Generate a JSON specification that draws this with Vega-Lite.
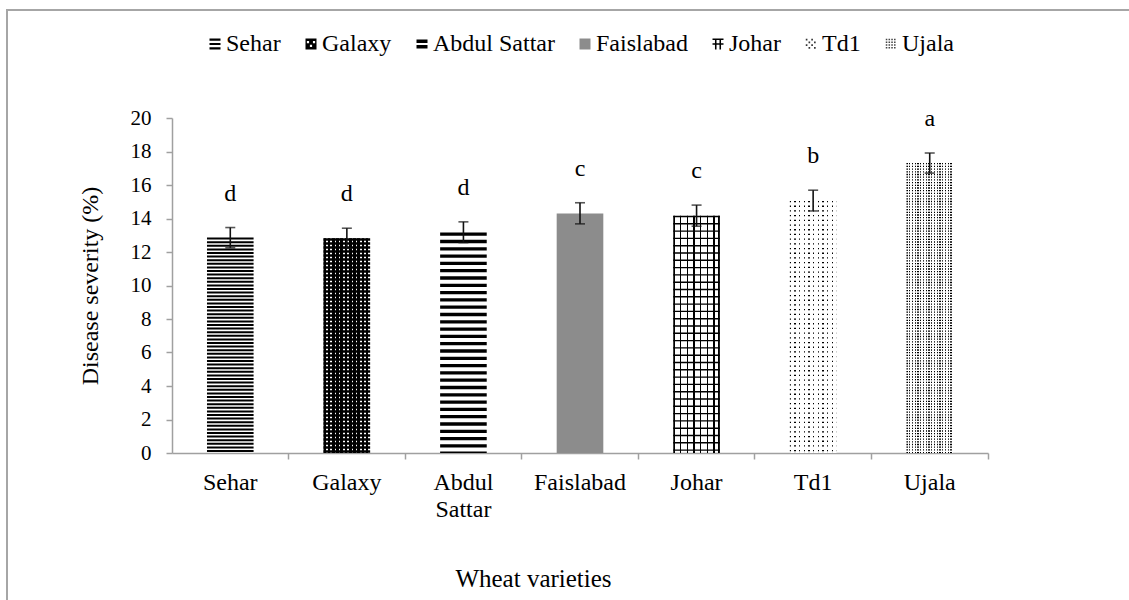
{
  "$schema": "https://vega.github.io/schema/vega-lite/v6.json",
  "width": 1132,
  "height": 600,
  "autosize": {"type": "none"},
  "padding": {"left": 7, "top": 10, "right": -10, "bottom": -10},
  "background": "white",
  "config": {
    "view": {"stroke": "#a6a6a6", "strokeWidth": 2},
    "axis": {
      "labelFont": "Liberation Serif",
      "titleFont": "Liberation Serif",
      "labelColor": "#000000",
      "titleColor": "#000000",
      "titleFontWeight": "normal",
      "domainColor": "#a0a0a0",
      "domainWidth": 1.5,
      "tickColor": "#a0a0a0",
      "tickWidth": 1.5,
      "tickSize": 6,
      "grid": false
    },
    "axisY": {
      "offset": -165,
      "tickCount": 10,
      "labelFontSize": 21,
      "labelPadding": 15,
      "titleFontSize": 24,
      "titleAngle": -90,
      "titleX": -82,
      "titleY": 275.5,
      "titleBaseline": "middle",
      "titleAlign": "center"
    },
    "legend": {
      "labelFont": "Liberation Serif",
      "labelFontSize": 24,
      "labelColor": "#000000",
      "labelOffset": -1,
      "columnPadding": 18,
      "symbolSize": 121,
      "symbolStrokeWidth": 0,
      "symbolOpacity": 1,
      "labelLimit": 300,
      "padding": 0
    }
  },
  "data": {
    "values": [
      {"variety": "Sehar", "mean": 12.86, "lo": 12.25, "hi": 13.46, "letter": "d"},
      {"variety": "Galaxy", "mean": 12.82, "lo": 12.22, "hi": 13.42, "letter": "d"},
      {"variety": "Abdul Sattar", "mean": 13.16, "lo": 12.56, "hi": 13.8, "letter": "d"},
      {"variety": "Faislabad", "mean": 14.3, "lo": 13.68, "hi": 14.94, "letter": "c"},
      {"variety": "Johar", "mean": 14.16, "lo": 13.54, "hi": 14.8, "letter": "c"},
      {"variety": "Td1", "mean": 15.05, "lo": 14.45, "hi": 15.69, "letter": "b"},
      {"variety": "Ujala", "mean": 17.31, "lo": 16.71, "hi": 17.91, "letter": "a"}
    ]
  },
  "encoding": {
    "x": {
      "field": "variety",
      "type": "nominal",
      "scale": {
        "type": "band",
        "domain": ["Sehar", "Galaxy", "Abdul Sattar", "Faislabad", "Johar", "Td1", "Ujala"],
        "range": [165, 981],
        "paddingInner": 0.6,
        "paddingOuter": 0.3
      },
      "axis": {
        "title": "Wheat varieties",
        "offset": -157,
        "bandPosition": 1.75,
        "labelFontSize": 24,
        "labelAngle": 0,
        "labelPadding": 11,
        "labelBaseline": "top",
        "labelExpr": "split(datum.label, ' ')",
        "labelLineHeight": 27,
        "titleFontSize": 25,
        "titleX": 526,
        "titleY": 125,
        "titleBaseline": "middle",
        "titleAlign": "center"
      }
    }
  },
  "layer": [
    {
      "mark": {"type": "point", "filled": true, "opacity": 0},
      "encoding": {
        "y": {"field": "mean", "type": "quantitative", "title": "Disease severity (%)", "scale": {"domain": [0, 20], "range": [443, 108], "nice": false, "zero": false}},
        "shape": {
          "field": "variety",
          "type": "nominal",
          "scale": {
            "domain": ["Sehar", "Galaxy", "Abdul Sattar", "Faislabad", "Johar", "Td1", "Ujala"],
            "range": [
              "M-1,-1H1V-0.6H-1Z M-1,-0.2H1V0.2H-1Z M-1,0.6H1V1H-1Z",
              "M-1,-1H1V1H-1Z M-0.75,-0.55V-0.15H-0.35V-0.55Z M0.35,-0.55V-0.15H0.75V-0.55Z M-0.2,0.15V0.55H0.2V0.15Z",
              "M-1,-0.8H1V-0.2H-1Z M-1,0.2H1V0.8H-1Z",
              "M-1,-1H1V1H-1Z",
              "M-1,-1H1V-0.72H-1Z M-1,-0.14H1V0.14H-1Z M-0.55,-1H-0.27V1H-0.55Z M0.27,-1H0.55V1H0.27Z",
              "M-0.95,-0.95h0.3v0.3h-0.3Z M0.05,-0.95h0.3v0.3h-0.3Z M-0.45,-0.45h0.3v0.3h-0.3Z M0.55,-0.45h0.3v0.3h-0.3Z M-0.95,0.05h0.3v0.3h-0.3Z M0.05,0.05h0.3v0.3h-0.3Z M-0.45,0.55h0.3v0.3h-0.3Z M0.55,0.55h0.3v0.3h-0.3Z",
              "M-0.95,-0.95h0.28v0.28h-0.28Z M-0.45,-0.95h0.28v0.28h-0.28Z M0.05,-0.95h0.28v0.28h-0.28Z M0.55,-0.95h0.28v0.28h-0.28Z M-0.95,-0.45h0.28v0.28h-0.28Z M-0.45,-0.45h0.28v0.28h-0.28Z M0.05,-0.45h0.28v0.28h-0.28Z M0.55,-0.45h0.28v0.28h-0.28Z M-0.95,0.05h0.28v0.28h-0.28Z M-0.45,0.05h0.28v0.28h-0.28Z M0.05,0.05h0.28v0.28h-0.28Z M0.55,0.05h0.28v0.28h-0.28Z M-0.95,0.55h0.28v0.28h-0.28Z M-0.45,0.55h0.28v0.28h-0.28Z M0.05,0.55h0.28v0.28h-0.28Z M0.55,0.55h0.28v0.28h-0.28Z"
            ]
          },
          "legend": {"orient": "none", "legendX": 196, "legendY": 22, "direction": "horizontal", "columns": 7, "title": null}
        },
        "color": {
          "field": "variety",
          "type": "nominal",
          "scale": {
            "domain": ["Sehar", "Galaxy", "Abdul Sattar", "Faislabad", "Johar", "Td1", "Ujala"],
            "range": ["#000000", "#000000", "#000000", "#8c8c8c", "#000000", "#333333", "#444444"]
          },
          "legend": {"orient": "none", "legendX": 196, "legendY": 22, "direction": "horizontal", "columns": 7, "title": null}
        }
      }
    },
    {
      "transform": [{"filter": "datum.variety === 'Faislabad'"}],
      "mark": {"type": "bar", "fill": "#8c8c8c"},
      "encoding": {
        "y": {"field": "mean", "type": "quantitative", "title": "Disease severity (%)", "scale": {"domain": [0, 20], "range": [443, 108], "nice": false, "zero": false}}
      }
    },
    {
      "transform": [{"filter": "datum.variety !== 'Faislabad'"}],
      "mark": {"type": "rule", "strokeWidth": 46.6, "color": "#000000", "strokeCap": "butt"},
      "encoding": {
        "y": {"field": "mean", "type": "quantitative", "title": "Disease severity (%)", "scale": {"domain": [0, 20], "range": [443, 108], "nice": false, "zero": false}},
        "y2": {"datum": 0},
        "strokeDash": {
          "field": "variety",
          "type": "nominal",
          "scale": {
            "domain": ["Sehar", "Galaxy", "Abdul Sattar", "Johar", "Td1", "Ujala"],
            "range": [[2, 1.6], [2.4, 1.6], [3.3, 4], [1.4, 5.9], [1.3, 3.4], [1.3, 1.4]]
          },
          "legend": null
        }
      }
    },
    {
      "transform": [{"filter": "datum.variety === 'Galaxy'"}],
      "mark": {
        "type": "bar",
        "fill": {
          "gradient": "linear", "x1": 0, "y1": 0, "x2": 1, "y2": 0,
          "stops": [
            {"offset": 0, "color": "#000000"}, {"offset": 0.0545, "color": "#000000"}, {"offset": 0.0545, "color": "rgba(0,0,0,0)"}, {"offset": 0.0909, "color": "rgba(0,0,0,0)"},
            {"offset": 0.0909, "color": "#000000"}, {"offset": 0.1455, "color": "#000000"}, {"offset": 0.1455, "color": "rgba(0,0,0,0)"}, {"offset": 0.1818, "color": "rgba(0,0,0,0)"},
            {"offset": 0.1818, "color": "#000000"}, {"offset": 0.2364, "color": "#000000"}, {"offset": 0.2364, "color": "rgba(0,0,0,0)"}, {"offset": 0.2727, "color": "rgba(0,0,0,0)"},
            {"offset": 0.2727, "color": "#000000"}, {"offset": 0.3273, "color": "#000000"}, {"offset": 0.3273, "color": "rgba(0,0,0,0)"}, {"offset": 0.3636, "color": "rgba(0,0,0,0)"},
            {"offset": 0.3636, "color": "#000000"}, {"offset": 0.4182, "color": "#000000"}, {"offset": 0.4182, "color": "rgba(0,0,0,0)"}, {"offset": 0.4545, "color": "rgba(0,0,0,0)"},
            {"offset": 0.4545, "color": "#000000"}, {"offset": 0.5091, "color": "#000000"}, {"offset": 0.5091, "color": "rgba(0,0,0,0)"}, {"offset": 0.5455, "color": "rgba(0,0,0,0)"},
            {"offset": 0.5455, "color": "#000000"}, {"offset": 0.6, "color": "#000000"}, {"offset": 0.6, "color": "rgba(0,0,0,0)"}, {"offset": 0.6364, "color": "rgba(0,0,0,0)"},
            {"offset": 0.6364, "color": "#000000"}, {"offset": 0.6909, "color": "#000000"}, {"offset": 0.6909, "color": "rgba(0,0,0,0)"}, {"offset": 0.7273, "color": "rgba(0,0,0,0)"},
            {"offset": 0.7273, "color": "#000000"}, {"offset": 0.7818, "color": "#000000"}, {"offset": 0.7818, "color": "rgba(0,0,0,0)"}, {"offset": 0.8182, "color": "rgba(0,0,0,0)"},
            {"offset": 0.8182, "color": "#000000"}, {"offset": 0.8727, "color": "#000000"}, {"offset": 0.8727, "color": "rgba(0,0,0,0)"}, {"offset": 0.9091, "color": "rgba(0,0,0,0)"},
            {"offset": 0.9091, "color": "#000000"}, {"offset": 0.9636, "color": "#000000"}, {"offset": 0.9636, "color": "rgba(0,0,0,0)"}, {"offset": 1, "color": "rgba(0,0,0,0)"}
          ]
        }
      },
      "encoding": {
        "y": {"field": "mean", "type": "quantitative", "title": "Disease severity (%)", "scale": {"domain": [0, 20], "range": [443, 108], "nice": false, "zero": false}}
      }
    },
    {
      "transform": [{"filter": "datum.variety === 'Johar'"}],
      "mark": {
        "type": "bar",
        "fill": {
          "gradient": "linear", "x1": 0, "y1": 0, "x2": 1, "y2": 0,
          "stops": [
            {"offset": 0, "color": "#000000"}, {"offset": 0.03, "color": "#000000"}, {"offset": 0.03, "color": "rgba(0,0,0,0)"}, {"offset": 0.1429, "color": "rgba(0,0,0,0)"},
            {"offset": 0.1429, "color": "#000000"}, {"offset": 0.1729, "color": "#000000"}, {"offset": 0.1729, "color": "rgba(0,0,0,0)"}, {"offset": 0.2857, "color": "rgba(0,0,0,0)"},
            {"offset": 0.2857, "color": "#000000"}, {"offset": 0.3157, "color": "#000000"}, {"offset": 0.3157, "color": "rgba(0,0,0,0)"}, {"offset": 0.4286, "color": "rgba(0,0,0,0)"},
            {"offset": 0.4286, "color": "#000000"}, {"offset": 0.4586, "color": "#000000"}, {"offset": 0.4586, "color": "rgba(0,0,0,0)"}, {"offset": 0.5714, "color": "rgba(0,0,0,0)"},
            {"offset": 0.5714, "color": "#000000"}, {"offset": 0.6014, "color": "#000000"}, {"offset": 0.6014, "color": "rgba(0,0,0,0)"}, {"offset": 0.7143, "color": "rgba(0,0,0,0)"},
            {"offset": 0.7143, "color": "#000000"}, {"offset": 0.7443, "color": "#000000"}, {"offset": 0.7443, "color": "rgba(0,0,0,0)"}, {"offset": 0.8571, "color": "rgba(0,0,0,0)"},
            {"offset": 0.8571, "color": "#000000"}, {"offset": 0.8871, "color": "#000000"}, {"offset": 0.8871, "color": "rgba(0,0,0,0)"}, {"offset": 0.97, "color": "rgba(0,0,0,0)"},
            {"offset": 0.97, "color": "#000000"}, {"offset": 1, "color": "#000000"}
          ]
        }
      },
      "encoding": {
        "y": {"field": "mean", "type": "quantitative", "title": "Disease severity (%)", "scale": {"domain": [0, 20], "range": [443, 108], "nice": false, "zero": false}}
      }
    },
    {
      "transform": [{"filter": "datum.variety === 'Td1'"}],
      "mark": {
        "type": "bar",
        "fill": {
          "gradient": "linear", "x1": 0, "y1": 0, "x2": 1, "y2": 0,
          "stops": [
            {"offset": 0, "color": "rgba(255,255,255,0)"}, {"offset": 0.027, "color": "rgba(255,255,255,0)"}, {"offset": 0.027, "color": "#ffffff"}, {"offset": 0.1, "color": "#ffffff"},
            {"offset": 0.1, "color": "rgba(255,255,255,0)"}, {"offset": 0.127, "color": "rgba(255,255,255,0)"}, {"offset": 0.127, "color": "#ffffff"}, {"offset": 0.2, "color": "#ffffff"},
            {"offset": 0.2, "color": "rgba(255,255,255,0)"}, {"offset": 0.227, "color": "rgba(255,255,255,0)"}, {"offset": 0.227, "color": "#ffffff"}, {"offset": 0.3, "color": "#ffffff"},
            {"offset": 0.3, "color": "rgba(255,255,255,0)"}, {"offset": 0.327, "color": "rgba(255,255,255,0)"}, {"offset": 0.327, "color": "#ffffff"}, {"offset": 0.4, "color": "#ffffff"},
            {"offset": 0.4, "color": "rgba(255,255,255,0)"}, {"offset": 0.427, "color": "rgba(255,255,255,0)"}, {"offset": 0.427, "color": "#ffffff"}, {"offset": 0.5, "color": "#ffffff"},
            {"offset": 0.5, "color": "rgba(255,255,255,0)"}, {"offset": 0.527, "color": "rgba(255,255,255,0)"}, {"offset": 0.527, "color": "#ffffff"}, {"offset": 0.6, "color": "#ffffff"},
            {"offset": 0.6, "color": "rgba(255,255,255,0)"}, {"offset": 0.627, "color": "rgba(255,255,255,0)"}, {"offset": 0.627, "color": "#ffffff"}, {"offset": 0.7, "color": "#ffffff"},
            {"offset": 0.7, "color": "rgba(255,255,255,0)"}, {"offset": 0.727, "color": "rgba(255,255,255,0)"}, {"offset": 0.727, "color": "#ffffff"}, {"offset": 0.8, "color": "#ffffff"},
            {"offset": 0.8, "color": "rgba(255,255,255,0)"}, {"offset": 0.827, "color": "rgba(255,255,255,0)"}, {"offset": 0.827, "color": "#ffffff"}, {"offset": 0.9, "color": "#ffffff"},
            {"offset": 0.9, "color": "rgba(255,255,255,0)"}, {"offset": 0.927, "color": "rgba(255,255,255,0)"}, {"offset": 0.927, "color": "#ffffff"}, {"offset": 1, "color": "#ffffff"}
          ]
        }
      },
      "encoding": {
        "y": {"field": "mean", "type": "quantitative", "title": "Disease severity (%)", "scale": {"domain": [0, 20], "range": [443, 108], "nice": false, "zero": false}}
      }
    },
    {
      "transform": [{"filter": "datum.variety === 'Ujala'"}],
      "mark": {
        "type": "bar",
        "fill": {
          "gradient": "linear", "x1": 0, "y1": 0, "x2": 1, "y2": 0,
          "stops": [
            {"offset": 0, "color": "rgba(255,255,255,0)"}, {"offset": 0.028, "color": "rgba(255,255,255,0)"}, {"offset": 0.028, "color": "#ffffff"}, {"offset": 0.0588, "color": "#ffffff"},
            {"offset": 0.0588, "color": "rgba(255,255,255,0)"}, {"offset": 0.0868, "color": "rgba(255,255,255,0)"}, {"offset": 0.0868, "color": "#ffffff"}, {"offset": 0.1176, "color": "#ffffff"},
            {"offset": 0.1176, "color": "rgba(255,255,255,0)"}, {"offset": 0.1456, "color": "rgba(255,255,255,0)"}, {"offset": 0.1456, "color": "#ffffff"}, {"offset": 0.1765, "color": "#ffffff"},
            {"offset": 0.1765, "color": "rgba(255,255,255,0)"}, {"offset": 0.2045, "color": "rgba(255,255,255,0)"}, {"offset": 0.2045, "color": "#ffffff"}, {"offset": 0.2353, "color": "#ffffff"},
            {"offset": 0.2353, "color": "rgba(255,255,255,0)"}, {"offset": 0.2633, "color": "rgba(255,255,255,0)"}, {"offset": 0.2633, "color": "#ffffff"}, {"offset": 0.2941, "color": "#ffffff"},
            {"offset": 0.2941, "color": "rgba(255,255,255,0)"}, {"offset": 0.3221, "color": "rgba(255,255,255,0)"}, {"offset": 0.3221, "color": "#ffffff"}, {"offset": 0.3529, "color": "#ffffff"},
            {"offset": 0.3529, "color": "rgba(255,255,255,0)"}, {"offset": 0.3809, "color": "rgba(255,255,255,0)"}, {"offset": 0.3809, "color": "#ffffff"}, {"offset": 0.4118, "color": "#ffffff"},
            {"offset": 0.4118, "color": "rgba(255,255,255,0)"}, {"offset": 0.4398, "color": "rgba(255,255,255,0)"}, {"offset": 0.4398, "color": "#ffffff"}, {"offset": 0.4706, "color": "#ffffff"},
            {"offset": 0.4706, "color": "rgba(255,255,255,0)"}, {"offset": 0.4986, "color": "rgba(255,255,255,0)"}, {"offset": 0.4986, "color": "#ffffff"}, {"offset": 0.5294, "color": "#ffffff"},
            {"offset": 0.5294, "color": "rgba(255,255,255,0)"}, {"offset": 0.5574, "color": "rgba(255,255,255,0)"}, {"offset": 0.5574, "color": "#ffffff"}, {"offset": 0.5882, "color": "#ffffff"},
            {"offset": 0.5882, "color": "rgba(255,255,255,0)"}, {"offset": 0.6162, "color": "rgba(255,255,255,0)"}, {"offset": 0.6162, "color": "#ffffff"}, {"offset": 0.6471, "color": "#ffffff"},
            {"offset": 0.6471, "color": "rgba(255,255,255,0)"}, {"offset": 0.6751, "color": "rgba(255,255,255,0)"}, {"offset": 0.6751, "color": "#ffffff"}, {"offset": 0.7059, "color": "#ffffff"},
            {"offset": 0.7059, "color": "rgba(255,255,255,0)"}, {"offset": 0.7339, "color": "rgba(255,255,255,0)"}, {"offset": 0.7339, "color": "#ffffff"}, {"offset": 0.7647, "color": "#ffffff"},
            {"offset": 0.7647, "color": "rgba(255,255,255,0)"}, {"offset": 0.7927, "color": "rgba(255,255,255,0)"}, {"offset": 0.7927, "color": "#ffffff"}, {"offset": 0.8235, "color": "#ffffff"},
            {"offset": 0.8235, "color": "rgba(255,255,255,0)"}, {"offset": 0.8515, "color": "rgba(255,255,255,0)"}, {"offset": 0.8515, "color": "#ffffff"}, {"offset": 0.8824, "color": "#ffffff"},
            {"offset": 0.8824, "color": "rgba(255,255,255,0)"}, {"offset": 0.9104, "color": "rgba(255,255,255,0)"}, {"offset": 0.9104, "color": "#ffffff"}, {"offset": 0.9412, "color": "#ffffff"},
            {"offset": 0.9412, "color": "rgba(255,255,255,0)"}, {"offset": 0.9692, "color": "rgba(255,255,255,0)"}, {"offset": 0.9692, "color": "#ffffff"}, {"offset": 1, "color": "#ffffff"}
          ]
        }
      },
      "encoding": {
        "y": {"field": "mean", "type": "quantitative", "title": "Disease severity (%)", "scale": {"domain": [0, 20], "range": [443, 108], "nice": false, "zero": false}}
      }
    },
    {
      "mark": {"type": "rule", "color": "#111111", "strokeWidth": 1.6},
      "encoding": {
        "y": {"field": "lo", "type": "quantitative", "title": "Disease severity (%)", "scale": {"domain": [0, 20], "range": [443, 108], "nice": false, "zero": false}},
        "y2": {"field": "hi"}
      }
    },
    {
      "mark": {"type": "tick", "color": "#111111", "thickness": 1.6, "size": 10, "orient": "horizontal"},
      "encoding": {
        "y": {"field": "hi", "type": "quantitative", "title": "Disease severity (%)", "scale": {"domain": [0, 20], "range": [443, 108], "nice": false, "zero": false}}
      }
    },
    {
      "mark": {"type": "tick", "color": "#111111", "thickness": 1.6, "size": 10, "orient": "horizontal"},
      "encoding": {
        "y": {"field": "lo", "type": "quantitative", "title": "Disease severity (%)", "scale": {"domain": [0, 20], "range": [443, 108], "nice": false, "zero": false}}
      }
    },
    {
      "mark": {"type": "text", "font": "Liberation Serif", "fontSize": 24, "baseline": "alphabetic", "dy": -27, "color": "#000000"},
      "encoding": {
        "y": {"field": "hi", "type": "quantitative", "title": "Disease severity (%)", "scale": {"domain": [0, 20], "range": [443, 108], "nice": false, "zero": false}},
        "text": {"field": "letter"}
      }
    }
  ]
}
